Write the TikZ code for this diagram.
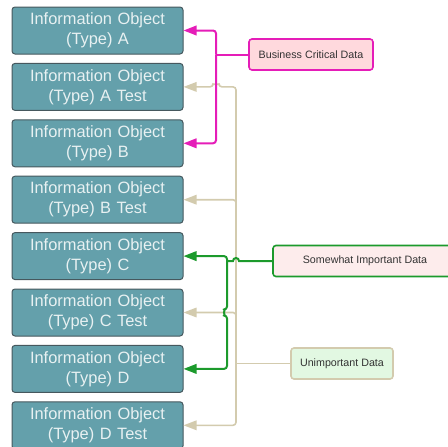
\documentclass[tikz,border=0pt]{standalone}
\usepackage{xcolor}
\usepackage{fontspec}
\setmainfont{Liberation Sans}
\usepackage{tikz}
\usetikzlibrary{positioning, arrows.meta}

\definecolor{objfill}{HTML}{64A0AB}
\definecolor{objdraw}{HTML}{46585E}
\definecolor{objtext}{HTML}{E8F1F2}
\definecolor{critpink}{HTML}{E51DB8}
\definecolor{critfill}{HTML}{FFD9DD}
\definecolor{midgreen}{HTML}{1C9A2C}
\definecolor{midfill}{HTML}{FDECEC}
\definecolor{lowtan}{HTML}{D3CBAE}
\definecolor{lowfill}{HTML}{E2F8E2}

\tikzset{
    object/.style={draw=objdraw, fill=objfill, rounded corners=3pt, line width=1pt,
        minimum width=171pt, minimum height=47pt, text width=167pt, inner sep=0pt,
        align=center, text=objtext, font=\fontsize{16.4}{20}\selectfont},
    tag/.style={rounded corners=3pt, line width=1.6pt, minimum height=31pt,
        inner sep=0pt, text=black!80, font=\fontsize{10.7}{12}\selectfont},
    link/.style={-{Triangle[length=13pt,width=9.5pt]}, rounded corners=3pt}
}

\begin{document}
\begin{tikzpicture}[x=1pt, y=-1pt, node distance=56.4pt, on grid]
        \useasboundingbox (0,0) rectangle (448,447);

        \node[object] (A) at (97.5,30.5) {Information Object\\(Type) A};
        \node[object] (Atest) [below=of A] {Information Object\\(Type) A Test};
        \node[object] (B) [below=of Atest] {Information Object\\(Type) B};
        \node[object] (Btest) [below=of B] {Information Object\\(Type) B Test};
        \node[object] (C) [below=of Btest] {Information Object\\(Type) C};
        \node[object] (Ctest) [below=of C] {Information Object\\(Type) C Test};
        \node[object] (D) [below=of Ctest] {Information Object\\(Type) D};
        \node[object] (Dtest) [below=of D] {Information Object\\(Type) D Test};

        \node[tag, draw=critpink, fill=critfill, minimum width=124pt] (crit) at (311,54.5) {Business Critical Data};
        \node[tag, draw=midgreen, fill=midfill, minimum width=184pt] (some) at (365,261) {Somewhat Important Data};
        \node[tag, draw=lowtan, fill=lowfill, minimum width=102pt] (unimp) at (342,363.5) {Unimportant Data};

        % unimportant: test objects
        \coordinate (lj) at (236,363.5);
        \coordinate (hopA) at (219,86.9);
        \begin{scope}[lowtan, line width=1.6pt]
            \draw (unimp.west) -- (lj);
            \draw[link] (lj) |- (Dtest.east);
            \draw[link] (lj) |- (Ctest.east);
            \draw[link] (lj) |- (Btest.east);
            \draw[link] (lj) |- (hopA) arc[start angle=0, end angle=180, radius=3pt] -- (Atest.east);
        \end{scope}

        % business critical: A and B
        \coordinate (cj) at (216,54.5);
        \begin{scope}[critpink, line width=2pt]
            \draw (crit.west) -- (cj);
            \draw[link] (cj) |- (A.east);
            \draw[link] (cj) |- (B.east);
        \end{scope}

        % somewhat important: C and D
        \coordinate (gj) at (227,261);
        \coordinate (hopS) at (239,261);
        \coordinate (hopC) at (227,309.5);
        \begin{scope}[midgreen, line width=2pt]
            \draw (some.west) -- (hopS) arc[start angle=0, end angle=180, radius=3pt] -- (gj);
            \draw[link] (gj) |- (C.east);
            \draw[link] (gj) -- (hopC) arc[start angle=90, end angle=270, radius=3pt] |- (D.east);
        \end{scope}
         
    \end{tikzpicture}
\end{document}
